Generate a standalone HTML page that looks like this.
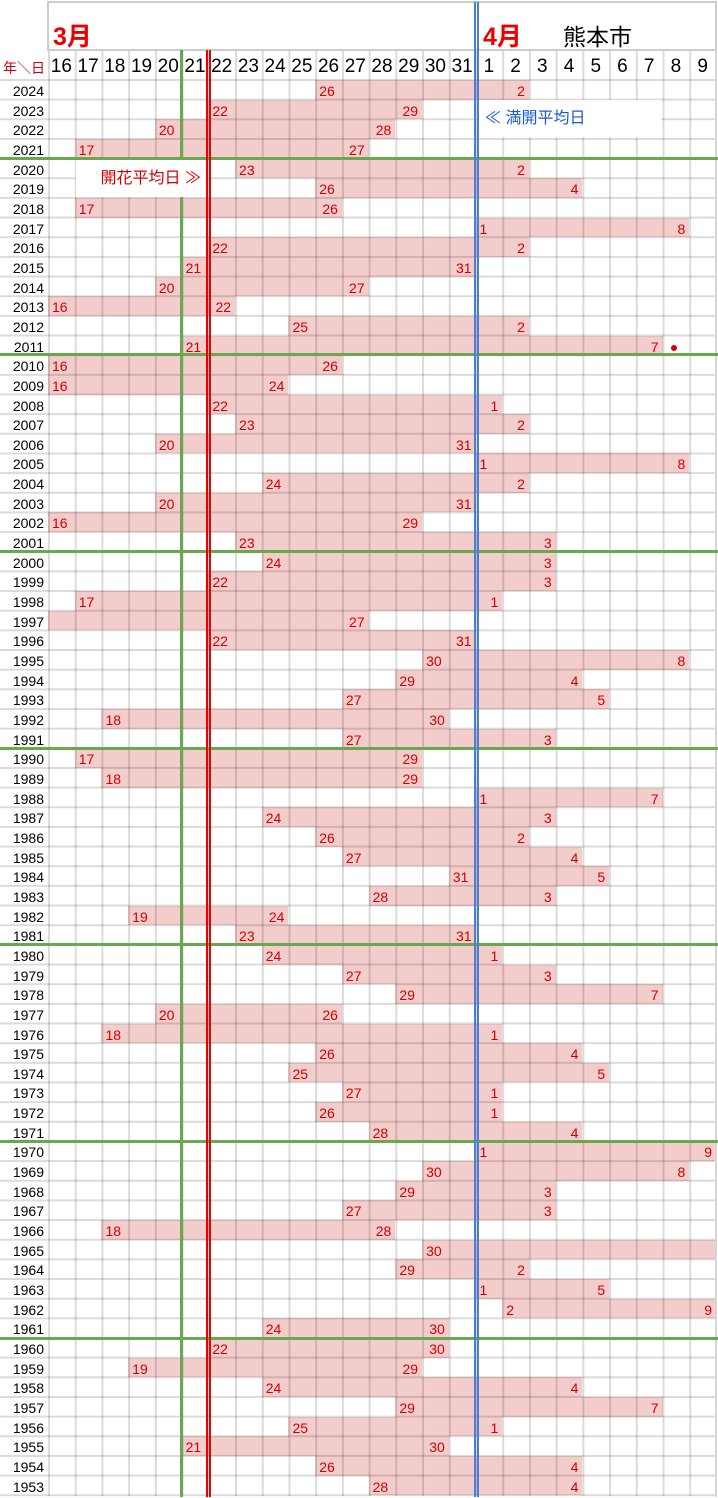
<!DOCTYPE html>
<html><head><meta charset="utf-8"><style>
*{margin:0;padding:0;box-sizing:border-box}
body{width:718px;height:1498px;background:#fff;position:relative;overflow:hidden;font-family:"Liberation Sans","Noto Sans CJK JP",sans-serif}
.rows{position:absolute;left:0;top:80px;width:718px}
.r{position:relative;height:19.667px}
.r s{position:absolute;left:0;width:44px;text-align:right;text-decoration:none;font-size:14px;line-height:22px;color:#000}
.r i{position:absolute;top:0;height:19.667px;background:#f3cccc;left:calc(48px + var(--a)*26.72px);width:calc((var(--b) - var(--a) + 1)*26.72px)}
.r b{position:absolute;top:0;width:26.72px;font-weight:normal;font-size:14px;line-height:22px;color:#d40000;z-index:3}
.r b.st{left:calc(48px + var(--a)*26.72px);text-align:left;padding-left:4px}
.r b.en{left:calc(48px + var(--b)*26.72px);text-align:right;padding-right:4px}
.dot{position:absolute;width:6px;height:6px;border-radius:3px;background:#d40000;left:671px;top:9px}
.gv{position:absolute;left:48px;top:50px;width:668px;height:1446px;background-image:linear-gradient(to right,rgba(0,0,0,.14) 2px,transparent 2px);background-size:26.72px 100%;z-index:2}
.gh{position:absolute;left:0;top:79px;width:716px;height:1418px;background-image:linear-gradient(to bottom,rgba(0,0,0,.14) 2px,transparent 2px);background-size:100% 19.667px;z-index:2}
.ln{position:absolute;z-index:4}
.box{position:absolute;background:#fff;z-index:5;font-size:16px;line-height:38px}
.hd{position:absolute;top:50px;height:30px;width:26.72px;text-align:center;font-size:19px;line-height:33px;color:#000}
</style></head><body>
<div class="ln" style="left:48px;top:1px;width:669px;height:2px;background:#ccc"></div>
<div class="ln" style="left:47px;top:1px;width:2px;height:50px;background:#ccc"></div>
<div class="ln" style="left:715px;top:1px;width:2px;height:50px;background:#ccc"></div>
<div class="ln" style="left:48px;top:49px;width:668px;height:2px;background:#ccc"></div>
<div style="position:absolute;left:53px;top:17px;font-size:25px;font-weight:bold;color:#e00">3月</div>
<div style="position:absolute;left:483px;top:17px;font-size:25px;font-weight:bold;color:#e00">4月</div>
<div style="position:absolute;left:563px;top:18px;font-size:23px;color:#000">熊本市</div>
<div style="position:absolute;left:3px;top:58px;font-size:14px;color:#d40000">年＼日</div>
<div class="hd" style="left:48px">16</div><div class="hd" style="left:74.72px">17</div><div class="hd" style="left:101.44px">18</div><div class="hd" style="left:128.16px">19</div><div class="hd" style="left:154.88px">20</div><div class="hd" style="left:181.6px">21</div><div class="hd" style="left:208.32px">22</div><div class="hd" style="left:235.04px">23</div><div class="hd" style="left:261.76px">24</div><div class="hd" style="left:288.48px">25</div><div class="hd" style="left:315.2px">26</div><div class="hd" style="left:341.92px">27</div><div class="hd" style="left:368.64px">28</div><div class="hd" style="left:395.36px">29</div><div class="hd" style="left:422.08px">30</div><div class="hd" style="left:448.8px">31</div><div class="hd" style="left:475.52px">1</div><div class="hd" style="left:502.24px">2</div><div class="hd" style="left:528.96px">3</div><div class="hd" style="left:555.68px">4</div><div class="hd" style="left:582.4px">5</div><div class="hd" style="left:609.12px">6</div><div class="hd" style="left:635.84px">7</div><div class="hd" style="left:662.56px">8</div><div class="hd" style="left:689.28px">9</div>
<div class="rows">
<div class="r"><s>2024</s><i style="--a:10;--b:17"></i><b class="st" style="--a:10">26</b><b class="en" style="--b:17">2</b></div>
<div class="r"><s>2023</s><i style="--a:6;--b:13"></i><b class="st" style="--a:6">22</b><b class="en" style="--b:13">29</b></div>
<div class="r"><s>2022</s><i style="--a:4;--b:12"></i><b class="st" style="--a:4">20</b><b class="en" style="--b:12">28</b></div>
<div class="r"><s>2021</s><i style="--a:1;--b:11"></i><b class="st" style="--a:1">17</b><b class="en" style="--b:11">27</b></div>
<div class="r"><s>2020</s><i style="--a:7;--b:17"></i><b class="st" style="--a:7">23</b><b class="en" style="--b:17">2</b></div>
<div class="r"><s>2019</s><i style="--a:10;--b:19"></i><b class="st" style="--a:10">26</b><b class="en" style="--b:19">4</b></div>
<div class="r"><s>2018</s><i style="--a:1;--b:10"></i><b class="st" style="--a:1">17</b><b class="en" style="--b:10">26</b></div>
<div class="r"><s>2017</s><i style="--a:16;--b:23"></i><b class="st" style="--a:16">1</b><b class="en" style="--b:23">8</b></div>
<div class="r"><s>2016</s><i style="--a:6;--b:17"></i><b class="st" style="--a:6">22</b><b class="en" style="--b:17">2</b></div>
<div class="r"><s>2015</s><i style="--a:5;--b:15"></i><b class="st" style="--a:5">21</b><b class="en" style="--b:15">31</b></div>
<div class="r"><s>2014</s><i style="--a:4;--b:11"></i><b class="st" style="--a:4">20</b><b class="en" style="--b:11">27</b></div>
<div class="r"><s>2013</s><i style="--a:0;--b:6"></i><b class="st" style="--a:0">16</b><b class="en" style="--b:6">22</b></div>
<div class="r"><s>2012</s><i style="--a:9;--b:17"></i><b class="st" style="--a:9">25</b><b class="en" style="--b:17">2</b></div>
<div class="r"><s>2011</s><i style="--a:5;--b:22"></i><b class="st" style="--a:5">21</b><b class="en" style="--b:22">7</b><span class="dot"></span></div>
<div class="r"><s>2010</s><i style="--a:0;--b:10"></i><b class="st" style="--a:0">16</b><b class="en" style="--b:10">26</b></div>
<div class="r"><s>2009</s><i style="--a:0;--b:8"></i><b class="st" style="--a:0">16</b><b class="en" style="--b:8">24</b></div>
<div class="r"><s>2008</s><i style="--a:6;--b:16"></i><b class="st" style="--a:6">22</b><b class="en" style="--b:16">1</b></div>
<div class="r"><s>2007</s><i style="--a:7;--b:17"></i><b class="st" style="--a:7">23</b><b class="en" style="--b:17">2</b></div>
<div class="r"><s>2006</s><i style="--a:4;--b:15"></i><b class="st" style="--a:4">20</b><b class="en" style="--b:15">31</b></div>
<div class="r"><s>2005</s><i style="--a:16;--b:23"></i><b class="st" style="--a:16">1</b><b class="en" style="--b:23">8</b></div>
<div class="r"><s>2004</s><i style="--a:8;--b:17"></i><b class="st" style="--a:8">24</b><b class="en" style="--b:17">2</b></div>
<div class="r"><s>2003</s><i style="--a:4;--b:15"></i><b class="st" style="--a:4">20</b><b class="en" style="--b:15">31</b></div>
<div class="r"><s>2002</s><i style="--a:0;--b:13"></i><b class="st" style="--a:0">16</b><b class="en" style="--b:13">29</b></div>
<div class="r"><s>2001</s><i style="--a:7;--b:18"></i><b class="st" style="--a:7">23</b><b class="en" style="--b:18">3</b></div>
<div class="r"><s>2000</s><i style="--a:8;--b:18"></i><b class="st" style="--a:8">24</b><b class="en" style="--b:18">3</b></div>
<div class="r"><s>1999</s><i style="--a:6;--b:18"></i><b class="st" style="--a:6">22</b><b class="en" style="--b:18">3</b></div>
<div class="r"><s>1998</s><i style="--a:1;--b:16"></i><b class="st" style="--a:1">17</b><b class="en" style="--b:16">1</b></div>
<div class="r"><s>1997</s><i style="--a:0;--b:11"></i><b class="en" style="--b:11">27</b></div>
<div class="r"><s>1996</s><i style="--a:6;--b:15"></i><b class="st" style="--a:6">22</b><b class="en" style="--b:15">31</b></div>
<div class="r"><s>1995</s><i style="--a:14;--b:23"></i><b class="st" style="--a:14">30</b><b class="en" style="--b:23">8</b></div>
<div class="r"><s>1994</s><i style="--a:13;--b:19"></i><b class="st" style="--a:13">29</b><b class="en" style="--b:19">4</b></div>
<div class="r"><s>1993</s><i style="--a:11;--b:20"></i><b class="st" style="--a:11">27</b><b class="en" style="--b:20">5</b></div>
<div class="r"><s>1992</s><i style="--a:2;--b:14"></i><b class="st" style="--a:2">18</b><b class="en" style="--b:14">30</b></div>
<div class="r"><s>1991</s><i style="--a:11;--b:18"></i><b class="st" style="--a:11">27</b><b class="en" style="--b:18">3</b></div>
<div class="r"><s>1990</s><i style="--a:1;--b:13"></i><b class="st" style="--a:1">17</b><b class="en" style="--b:13">29</b></div>
<div class="r"><s>1989</s><i style="--a:2;--b:13"></i><b class="st" style="--a:2">18</b><b class="en" style="--b:13">29</b></div>
<div class="r"><s>1988</s><i style="--a:16;--b:22"></i><b class="st" style="--a:16">1</b><b class="en" style="--b:22">7</b></div>
<div class="r"><s>1987</s><i style="--a:8;--b:18"></i><b class="st" style="--a:8">24</b><b class="en" style="--b:18">3</b></div>
<div class="r"><s>1986</s><i style="--a:10;--b:17"></i><b class="st" style="--a:10">26</b><b class="en" style="--b:17">2</b></div>
<div class="r"><s>1985</s><i style="--a:11;--b:19"></i><b class="st" style="--a:11">27</b><b class="en" style="--b:19">4</b></div>
<div class="r"><s>1984</s><i style="--a:15;--b:20"></i><b class="st" style="--a:15">31</b><b class="en" style="--b:20">5</b></div>
<div class="r"><s>1983</s><i style="--a:12;--b:18"></i><b class="st" style="--a:12">28</b><b class="en" style="--b:18">3</b></div>
<div class="r"><s>1982</s><i style="--a:3;--b:8"></i><b class="st" style="--a:3">19</b><b class="en" style="--b:8">24</b></div>
<div class="r"><s>1981</s><i style="--a:7;--b:15"></i><b class="st" style="--a:7">23</b><b class="en" style="--b:15">31</b></div>
<div class="r"><s>1980</s><i style="--a:8;--b:16"></i><b class="st" style="--a:8">24</b><b class="en" style="--b:16">1</b></div>
<div class="r"><s>1979</s><i style="--a:11;--b:18"></i><b class="st" style="--a:11">27</b><b class="en" style="--b:18">3</b></div>
<div class="r"><s>1978</s><i style="--a:13;--b:22"></i><b class="st" style="--a:13">29</b><b class="en" style="--b:22">7</b></div>
<div class="r"><s>1977</s><i style="--a:4;--b:10"></i><b class="st" style="--a:4">20</b><b class="en" style="--b:10">26</b></div>
<div class="r"><s>1976</s><i style="--a:2;--b:16"></i><b class="st" style="--a:2">18</b><b class="en" style="--b:16">1</b></div>
<div class="r"><s>1975</s><i style="--a:10;--b:19"></i><b class="st" style="--a:10">26</b><b class="en" style="--b:19">4</b></div>
<div class="r"><s>1974</s><i style="--a:9;--b:20"></i><b class="st" style="--a:9">25</b><b class="en" style="--b:20">5</b></div>
<div class="r"><s>1973</s><i style="--a:11;--b:16"></i><b class="st" style="--a:11">27</b><b class="en" style="--b:16">1</b></div>
<div class="r"><s>1972</s><i style="--a:10;--b:16"></i><b class="st" style="--a:10">26</b><b class="en" style="--b:16">1</b></div>
<div class="r"><s>1971</s><i style="--a:12;--b:19"></i><b class="st" style="--a:12">28</b><b class="en" style="--b:19">4</b></div>
<div class="r"><s>1970</s><i style="--a:16;--b:24"></i><b class="st" style="--a:16">1</b><b class="en" style="--b:24">9</b></div>
<div class="r"><s>1969</s><i style="--a:14;--b:23"></i><b class="st" style="--a:14">30</b><b class="en" style="--b:23">8</b></div>
<div class="r"><s>1968</s><i style="--a:13;--b:18"></i><b class="st" style="--a:13">29</b><b class="en" style="--b:18">3</b></div>
<div class="r"><s>1967</s><i style="--a:11;--b:18"></i><b class="st" style="--a:11">27</b><b class="en" style="--b:18">3</b></div>
<div class="r"><s>1966</s><i style="--a:2;--b:12"></i><b class="st" style="--a:2">18</b><b class="en" style="--b:12">28</b></div>
<div class="r"><s>1965</s><i style="--a:14;--b:24"></i><b class="st" style="--a:14">30</b></div>
<div class="r"><s>1964</s><i style="--a:13;--b:17"></i><b class="st" style="--a:13">29</b><b class="en" style="--b:17">2</b></div>
<div class="r"><s>1963</s><i style="--a:16;--b:20"></i><b class="st" style="--a:16">1</b><b class="en" style="--b:20">5</b></div>
<div class="r"><s>1962</s><i style="--a:17;--b:24"></i><b class="st" style="--a:17">2</b><b class="en" style="--b:24">9</b></div>
<div class="r"><s>1961</s><i style="--a:8;--b:14"></i><b class="st" style="--a:8">24</b><b class="en" style="--b:14">30</b></div>
<div class="r"><s>1960</s><i style="--a:6;--b:14"></i><b class="st" style="--a:6">22</b><b class="en" style="--b:14">30</b></div>
<div class="r"><s>1959</s><i style="--a:3;--b:13"></i><b class="st" style="--a:3">19</b><b class="en" style="--b:13">29</b></div>
<div class="r"><s>1958</s><i style="--a:8;--b:19"></i><b class="st" style="--a:8">24</b><b class="en" style="--b:19">4</b></div>
<div class="r"><s>1957</s><i style="--a:13;--b:22"></i><b class="st" style="--a:13">29</b><b class="en" style="--b:22">7</b></div>
<div class="r"><s>1956</s><i style="--a:9;--b:16"></i><b class="st" style="--a:9">25</b><b class="en" style="--b:16">1</b></div>
<div class="r"><s>1955</s><i style="--a:5;--b:14"></i><b class="st" style="--a:5">21</b><b class="en" style="--b:14">30</b></div>
<div class="r"><s>1954</s><i style="--a:10;--b:19"></i><b class="st" style="--a:10">26</b><b class="en" style="--b:19">4</b></div>
<div class="r"><s>1953</s><i style="--a:12;--b:19"></i><b class="st" style="--a:12">28</b><b class="en" style="--b:19">4</b></div>
</div>
<div class="gv"></div>
<div class="gh"></div>
<div class="ln" style="left:715px;top:50px;width:2px;height:1447px;background:#d6d6d6"></div>
<div class="ln" style="left:180px;top:50px;width:3px;height:1447px;background:#6aa84f"></div>
<div class="ln" style="left:0;top:157px;width:718px;height:3px;background:#6aa84f"></div>
<div class="ln" style="left:0;top:353px;width:718px;height:3px;background:#6aa84f"></div>
<div class="ln" style="left:0;top:550px;width:718px;height:3px;background:#6aa84f"></div>
<div class="ln" style="left:0;top:747px;width:718px;height:3px;background:#6aa84f"></div>
<div class="ln" style="left:0;top:943px;width:718px;height:3px;background:#6aa84f"></div>
<div class="ln" style="left:0;top:1140px;width:718px;height:3px;background:#6aa84f"></div>
<div class="ln" style="left:0;top:1337px;width:718px;height:3px;background:#6aa84f"></div>
<div class="box" style="left:76px;top:160px;width:131px;height:37px;color:#d40000;text-align:right;padding-right:6px">開花平均日 ≫</div>
<div class="box" style="left:478px;top:100px;width:183px;height:37px;color:#1a5bd0;padding-left:7px">≪ 満開平均日</div>
<div class="ln" style="left:206px;top:50px;width:1.5px;height:1447px;background:#e00;z-index:6"></div>
<div class="ln" style="left:209px;top:50px;width:1.5px;height:1447px;background:#e00;z-index:6"></div>
<div class="ln" style="left:474px;top:2px;width:1.5px;height:1495px;background:#4a7fd6;z-index:6"></div>
<div class="ln" style="left:477px;top:2px;width:1.5px;height:1495px;background:#4a7fd6;z-index:6"></div>
</body></html>
